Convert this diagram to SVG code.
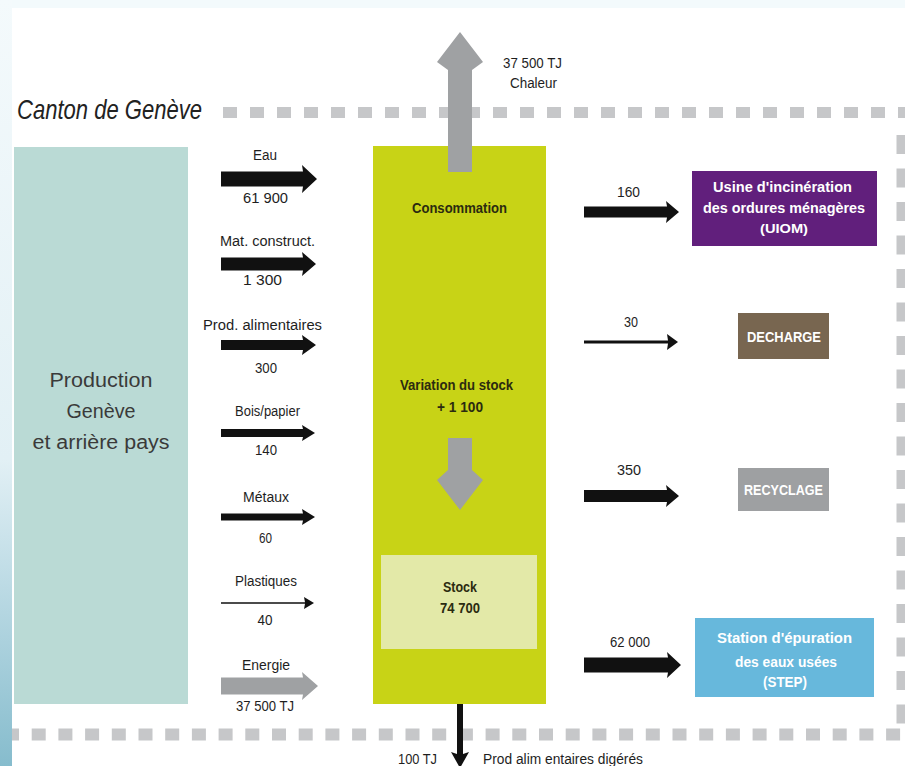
<svg xmlns="http://www.w3.org/2000/svg" width="905" height="766" viewBox="0 0 905 766">
  <defs>
    <linearGradient id="edge" x1="0" y1="0" x2="0" y2="1">
      <stop offset="0" stop-color="#f4fafc"/>
      <stop offset="0.6" stop-color="#e2f0f5"/>
      <stop offset="1" stop-color="#86bccd"/>
    </linearGradient>
    <style>
      .t { font-family: "Liberation Sans", Arial, sans-serif; fill: #1e1e1e; text-anchor: middle; }
      .lbl { font-size: 14px; }
      .mid { font-size: 14px; font-weight: bold; fill: #2b2b10; }
      .box { font-size: 14px; font-weight: bold; fill: #ffffff; }
      .big { font-size: 20px; fill: #3a3a3a; }
      .dark { fill: #111111; }
      .grey { fill: #9fa1a3; }
      .dash { fill: none; stroke: #c6c7c9; }
    </style>
  </defs>

  <!-- page background and margins -->
  <rect x="0" y="0" width="905" height="766" fill="#ffffff"/>
  <rect x="0" y="0" width="905" height="8" fill="#f3fafc"/>

  <!-- canton boundary (dotted frame) -->
  <g id="canton">
    <line class="dash" x1="223" y1="112.5" x2="905" y2="112.5" stroke-width="11" stroke-dasharray="14 13"/>
    <line class="dash" x1="5" y1="734.5" x2="905" y2="734.5" stroke-width="12" stroke-dasharray="14 12.7"/>
    <line class="dash" x1="901" y1="135" x2="901" y2="728" stroke-width="9" stroke-dasharray="19 14.5"/>
  </g>

  <rect x="0" y="0" width="12" height="766" fill="url(#edge)"/>

  <text x="17" y="119" style="font-family: 'Liberation Sans', Arial, sans-serif; font-size: 28px; font-style: italic; fill: #222222; text-anchor: start;" textLength="185" lengthAdjust="spacingAndGlyphs">Canton de Genève</text>

  <!-- source -->
  <g id="production">
    <rect x="14" y="147" width="174" height="557" fill="#badad5"/>
    <text class="t big" x="101" y="387" textLength="103" lengthAdjust="spacingAndGlyphs">Production</text>
    <text class="t big" x="101" y="418" textLength="69" lengthAdjust="spacingAndGlyphs">Genève</text>
    <text class="t big" x="101" y="449" textLength="137" lengthAdjust="spacingAndGlyphs">et arrière pays</text>
  </g>

  <!-- consumption block -->
  <g id="consommation">
    <rect x="373" y="146" width="173" height="558" fill="#c8d316"/>
    <text class="t mid" x="459.5" y="213" textLength="95" lengthAdjust="spacingAndGlyphs">Consommation</text>
    <text class="t mid" x="456.5" y="390" textLength="113" lengthAdjust="spacingAndGlyphs">Variation du stock</text>
    <text class="t mid" x="460" y="412" textLength="46" lengthAdjust="spacingAndGlyphs">+ 1 100</text>
  </g>

  <g id="stock">
    <rect x="381" y="555" width="156" height="94" fill="#e3e9a8"/>
    <text class="t mid" x="460" y="592" textLength="34" lengthAdjust="spacingAndGlyphs">Stock</text>
    <text class="t mid" x="460" y="613" textLength="40" lengthAdjust="spacingAndGlyphs">74 700</text>
  </g>

  <!-- destinations -->
  <g id="uiom">
    <rect x="692" y="171" width="185" height="75" fill="#611f7c"/>
    <text class="t box" x="782.5" y="192" textLength="139" lengthAdjust="spacingAndGlyphs">Usine d'incinération</text>
    <text class="t box" x="784" y="213" textLength="162" lengthAdjust="spacingAndGlyphs">des ordures ménagères</text>
    <text class="t box" x="784" y="233" style="font-size: 12px;" textLength="48" lengthAdjust="spacingAndGlyphs">(UIOM)</text>
  </g>
  <g id="decharge">
    <rect x="738" y="313" width="91" height="46" fill="#786650"/>
    <text class="t box" x="784" y="342" textLength="74" lengthAdjust="spacingAndGlyphs">DECHARGE</text>
  </g>
  <g id="recyclage">
    <rect x="738" y="468" width="91" height="43" fill="#9ea0a2"/>
    <text class="t box" x="783.5" y="495" textLength="79" lengthAdjust="spacingAndGlyphs">RECYCLAGE</text>
  </g>
  <g id="step">
    <rect x="695" y="618" width="179" height="79" fill="#67b8dc"/>
    <text class="t box" x="784.5" y="643" textLength="135" lengthAdjust="spacingAndGlyphs">Station d'épuration</text>
    <text class="t box" x="786" y="667" textLength="102" lengthAdjust="spacingAndGlyphs">des eaux usées</text>
    <text class="t box" x="785" y="687" textLength="44" lengthAdjust="spacingAndGlyphs">(STEP)</text>
  </g>

  <!-- flows -->
  <g id="connectors">
    <!-- heat leaving upward -->
    <polygon class="grey" points="448,172 448,70 437,62 460,32 483,62 472,70 472,172"/>
    <!-- stock growth -->
    <polygon class="grey" points="448,438 472,438 472,470 483,480 460,510 437,480 448,470"/>
    <!-- digested food leaving downward -->
    <polygon class="dark" points="457,704 463,704 463,754 469,752 460,768 451,752 457,754"/>

    <!-- inputs -->
    <polygon class="dark" points="221,171.5 303,171.5 302,165 317,179 302,193 303,186.5 221,186.5"/>
    <polygon class="dark" points="221,257.5 303,257.5 302,252 316,264 302,276 303,270.5 221,270.5"/>
    <polygon class="dark" points="221,340 303,340 302,335 316,345 302,355 303,350 221,350"/>
    <polygon class="dark" points="221,429 303,429 302,425 315,433 302,441 303,437 221,437"/>
    <polygon class="dark" points="221,513.5 303,513.5 302,509 315,517 302,525 303,520.5 221,520.5"/>
    <polygon class="dark" points="221,602.2 305,602.2 304,597 314,603 304,609 305,603.8 221,603.8"/>
    <polygon class="grey" points="221,677.5 303,677.5 302,672 318,686 302,700 303,694.5 221,694.5"/>

    <!-- outputs -->
    <polygon class="dark" points="584,206.5 667,206.5 666,201 679,212 666,223 667,217.5 584,217.5"/>
    <polygon class="dark" points="584,340.5 668,340.5 667,334 678,342 667,350 668,343.5 584,343.5"/>
    <polygon class="dark" points="584,490 667,490 666,485 679,496 666,507 667,502 584,502"/>
    <polygon class="dark" points="584,657.5 668,657.5 667,652 681,665 667,678 668,672.5 584,672.5"/>
  </g>

  <!-- flow labels -->
  <g id="labels">
    <text class="t lbl" x="532.5" y="68" textLength="59" lengthAdjust="spacingAndGlyphs">37 500 TJ</text>
    <text class="t lbl" x="533.5" y="88" textLength="47" lengthAdjust="spacingAndGlyphs">Chaleur</text>

    <text class="t lbl" x="265" y="160" textLength="24" lengthAdjust="spacingAndGlyphs">Eau</text>
    <text class="t lbl" x="265.5" y="203" textLength="45" lengthAdjust="spacingAndGlyphs">61 900</text>
    <text class="t lbl" x="267.5" y="246" textLength="95" lengthAdjust="spacingAndGlyphs">Mat. construct.</text>
    <text class="t lbl" x="262.5" y="285" textLength="39" lengthAdjust="spacingAndGlyphs">1 300</text>
    <text class="t lbl" x="262.5" y="330" textLength="119" lengthAdjust="spacingAndGlyphs">Prod. alimentaires</text>
    <text class="t lbl" x="266" y="373" textLength="22" lengthAdjust="spacingAndGlyphs">300</text>
    <text class="t lbl" x="267.5" y="416" textLength="65" lengthAdjust="spacingAndGlyphs">Bois/papier</text>
    <text class="t lbl" x="266" y="455" textLength="22" lengthAdjust="spacingAndGlyphs">140</text>
    <text class="t lbl" x="266" y="502" textLength="46" lengthAdjust="spacingAndGlyphs">Métaux</text>
    <text class="t lbl" x="265.5" y="543" textLength="13" lengthAdjust="spacingAndGlyphs">60</text>
    <text class="t lbl" x="266" y="586" textLength="62" lengthAdjust="spacingAndGlyphs">Plastiques</text>
    <text class="t lbl" x="265" y="625" textLength="15" lengthAdjust="spacingAndGlyphs">40</text>
    <text class="t lbl" x="266" y="670" textLength="48" lengthAdjust="spacingAndGlyphs">Energie</text>
    <text class="t lbl" x="265" y="711" textLength="58" lengthAdjust="spacingAndGlyphs">37 500 TJ</text>

    <text class="t lbl" x="628.5" y="197" textLength="23" lengthAdjust="spacingAndGlyphs">160</text>
    <text class="t lbl" x="631" y="327" textLength="14" lengthAdjust="spacingAndGlyphs">30</text>
    <text class="t lbl" x="629" y="475" textLength="24" lengthAdjust="spacingAndGlyphs">350</text>
    <text class="t lbl" x="630" y="647" textLength="40" lengthAdjust="spacingAndGlyphs">62 000</text>

    <text class="t lbl" x="417.5" y="764" textLength="39" lengthAdjust="spacingAndGlyphs">100 TJ</text>
    <text class="t lbl" x="563" y="764" textLength="160" lengthAdjust="spacingAndGlyphs">Prod alim entaires digérés</text>
  </g>
</svg>
